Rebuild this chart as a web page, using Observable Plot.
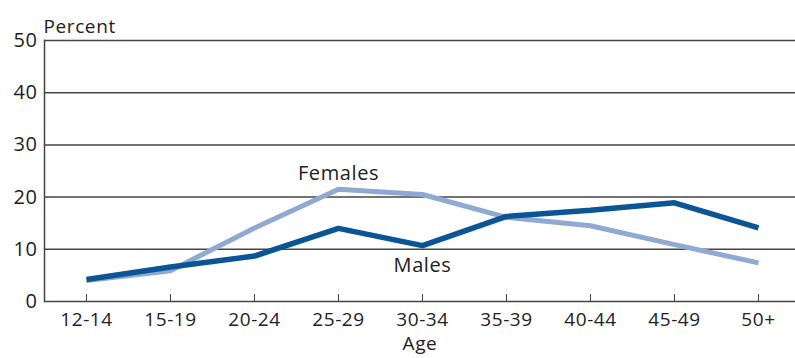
<!DOCTYPE html>
<html>
<head>
<meta charset="utf-8">
<script src="https://cdn.jsdelivr.net/npm/d3@7"></script>
<script src="https://cdn.jsdelivr.net/npm/@observablehq/plot@0.6"></script>
<style>
  html, body { margin: 0; padding: 0; background: #fff; }
  #chart svg { display: block; }
  #chart svg text { letter-spacing: 0.6px; }
</style>
</head>
<body>
<div id="chart"></div>
<script>
const ages = ["12-14", "15-19", "20-24", "25-29", "30-34", "35-39", "40-44", "45-49", "50+"];
const males = [4.2, 6.6, 8.7, 14.0, 10.7, 16.3, 17.5, 18.9, 14.1];
const females = [4.0, 5.9, 14.1, 21.5, 20.5, 16.1, 14.5, 10.9, 7.4];
const yTicks = [0, 10, 20, 30, 40, 50];
const seriesNames = ["Males", "Females"];
const seriesColors = ["#0a5596", "#8ea9d2"];
const labels = [
  {text: "Females", age: "25-29", value: 24.5},
  {text: "Males", age: "30-34", value: 6.8}
];

const rows = [];
ages.forEach((a, i) => {
  rows.push({age: a, value: males[i], series: "Males"});
  rows.push({age: a, value: females[i], series: "Females"});
});

const font = "'Open Sans', sans-serif";

const chart = Plot.plot({
  width: 795,
  height: 358,
  marginLeft: 44,
  marginRight: 0,
  marginTop: 40,
  marginBottom: 57,
  style: {fontFamily: font, fontSize: "20px", color: "#222", background: "#fff"},
  x: {type: "point", domain: ages, range: [86, 758], padding: 0},
  y: {domain: [0, 50]},
  color: {domain: seriesNames, range: seriesColors},
  marks: [
    Plot.gridY(yTicks, {stroke: "#444", strokeOpacity: 1, strokeWidth: 1.5}),
    Plot.frame({anchor: "left", stroke: "#444", strokeWidth: 1.5}),
    Plot.axisY(yTicks, {tickSize: 0, tickPadding: 7, fontSize: 20, label: null, fill: "#222"}),
    Plot.axisX(ages, {tickSize: -7, tickPadding: 18, fontSize: 19, stroke: "#444", fill: "#222", label: null}),
    Plot.text(["Age"], {frameAnchor: "bottom", text: d => d, dy: 48, fontSize: 19, fill: "#222"}),
    Plot.line(rows.filter(d => d.series === "Females"), {x: "age", y: "value", stroke: "series", strokeWidth: 5, strokeLinejoin: "miter", strokeLinecap: "butt"}),
    Plot.line(rows.filter(d => d.series === "Males"), {x: "age", y: "value", stroke: "series", strokeWidth: 5.5, strokeLinejoin: "miter", strokeLinecap: "butt"}),
    Plot.text(labels, {x: "age", y: "value", text: "text", fontSize: 20, fill: "#222"}),
    Plot.text(["Percent"], {frameAnchor: "top-left", text: d => d, dx: -1, dy: -21, fontSize: 19, fill: "#222", textAnchor: "start"})
  ]
});
document.getElementById("chart").append(chart);
</script>
</body>
</html>
